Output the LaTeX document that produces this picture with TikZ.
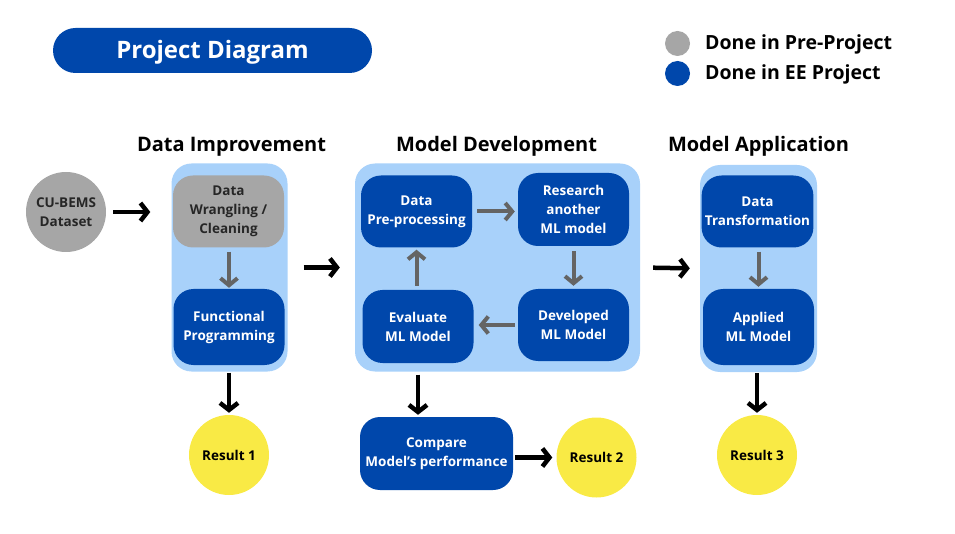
\documentclass[tikz,border=0pt]{standalone}
\usepackage{fontspec}
\setmainfont{Open Sans}
\usetikzlibrary{arrows.meta}
\definecolor{eeblue}{HTML}{0047AB}
\definecolor{pregray}{HTML}{A6A6A6}
\definecolor{panel}{HTML}{A8D1FA}
\definecolor{resyellow}{HTML}{F9EA45}
\definecolor{flowgray}{HTML}{646464}
\begin{document}
\begin{tikzpicture}[x=1pt,y=-1pt,
    panelbox/.style={fill=panel,rounded corners=20pt,minimum width=116pt,minimum height=208pt},
    stage/.style={fill=eeblue,text=white,rounded corners=20pt,minimum width=111pt,minimum height=72pt,align=center,font=\fontsize{13.5}{19}\selectfont\bfseries},
    result/.style={circle,fill=resyellow,minimum size=80pt,font=\fontsize{13.5}{19}\selectfont\bfseries},
    heading/.style={font=\fontsize{20}{22}\selectfont\bfseries},
    legendtext/.style={anchor=west,inner sep=0pt,font=\fontsize{19.5}{21}\selectfont\bfseries},
    dot/.style={circle,minimum size=25pt,inner sep=0pt},
    blk/.style={line width=4.5pt,-{Straight Barb[length=7pt,width=18pt]}},
    gry/.style={flowgray,line width=4pt,-{Straight Barb[length=7pt,width=17pt]}}]
\useasboundingbox (0,0) rectangle (955,534);
\node[fill=eeblue,text=white,rounded corners=22.5pt,minimum width=319pt,minimum height=45pt,font=\fontsize{24}{26}\selectfont\bfseries] (title) at (212.5,50.5) {\raisebox{-8.5pt}[0pt][0pt]{Project Diagram}};
\node[dot,fill=pregray] (predot) at (677.5,43.5) {};
\node[dot,fill=eeblue] (eedot) at (677.5,73.5) {};
\node[legendtext] (pretext) at (705,44.5) {Done in Pre-Project};
\node[legendtext] (eetext) at (705,74.5) {Done in EE Project};
% headings
\node[heading] (h1) at (231.5,146.5) {Data Improvement};
\node[heading] (h2) at (496.5,146.5) {Model Development};
\node[heading] (h3) at (758.5,146.5) {Model Application};
% panels
\node[panelbox] (box1) at (229.5,267.5) {};
\node[panelbox,minimum width=285pt] (box2) at (497.5,267.5) {};
\node[panelbox,minimum width=117pt,minimum height=207pt] (box3) at (758.5,268.5) {};
\node[circle,fill=pregray,minimum size=80pt,align=center,text=black!85,font=\fontsize{13.5}{19}\selectfont\bfseries] (cubems) at (66,212) {CU-BEMS\\Dataset};
\node[stage,fill=pregray,text=black!85] (wrangle) at (228.5,211.5) {Data\\Wrangling /\\Cleaning};
\node[stage,minimum height=76pt] (func) at (229,327) {Functional\\Programming};
\node[stage] (prep) at (416.5,211.5) {Data\\Pre-processing};
\node[stage,minimum height=73pt] (research) at (573.5,209.5) {Research\\another\\ML model};
\node[stage] (develop) at (573.5,325) {Developed\\ML Model};
\node[stage,minimum height=73pt] (evaluate) at (418,326.5) {Evaluate\\ML Model};
\node[stage,minimum width=153pt,minimum height=73pt] (compare) at (436.5,453.5) {Compare\\Model's performance};
\node[stage] (transform) at (757.5,211.5) {Data\\Transformation};
\node[stage,minimum height=76pt] (applied) at (758.5,327) {Applied\\ML Model};
\node[result] (res1) at (229,455) {Result 1};
\node[result] (res2) at (596.5,457.5) {Result 2};
\node[result] (res3) at (757,455) {Result 3};
% flow
\draw[blk,shorten <=7pt,shorten >=21pt] (cubems.east) -- (cubems.east -| box1.west);
\draw[blk,shorten <=16pt,shorten >=15pt] (box1.east) -- (box2.west);
\draw[blk,shorten <=13pt,shorten >=10pt] (box2.east) -- (box3.west);
\draw[blk,shorten <=1pt,shorten >=2pt] (box1.south -| res1) -- (res1.north);
\draw[blk,shorten <=3pt,shorten >=2pt] (evaluate.south |- box2.south) -- (evaluate.south |- compare.north);
\draw[blk,shorten <=2pt,shorten >=4pt] (compare.east |- res2) -- (res2.west);
\draw[blk,shorten <=1pt,shorten >=2pt] (box3.south -| res3) -- (res3.north);
\draw[gry,shorten <=4pt,shorten >=1pt] (wrangle.south -| func) -- (func.north);
\draw[gry,shorten <=5pt,shorten >=3pt] (prep.east) -- (prep.east -| research.west);
\draw[gry,shorten <=5pt,shorten >=3pt] (research.south) -- (research.south |- develop.north);
\draw[gry,shorten <=3pt,shorten >=5pt] (develop.west) -- (develop.west -| evaluate.east);
\draw[gry,shorten <=4pt,shorten >=2pt] (evaluate.north -| prep) -- (prep.south);
\draw[gry,shorten <=4pt,shorten >=2pt] (transform.south -| applied) -- (applied.north);
\end{tikzpicture}
\end{document}
